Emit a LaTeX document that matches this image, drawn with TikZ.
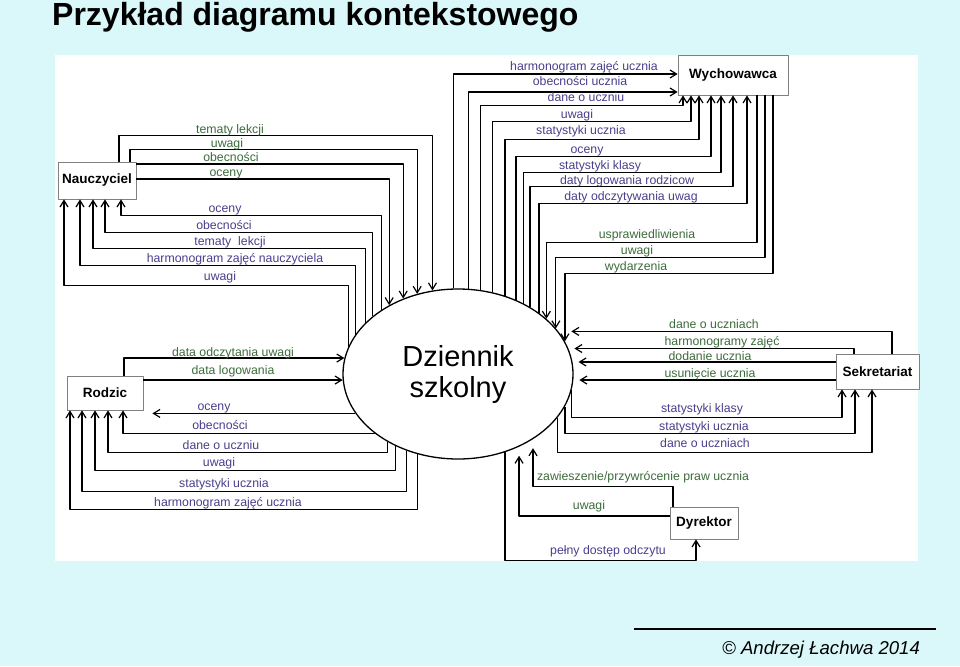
\documentclass[tikz,border=0pt]{standalone}
\usepackage{fontspec}
\setmainfont{Liberation Sans}
\usetikzlibrary{arrows.meta,shapes.geometric,calc}
\definecolor{bgcyan}{RGB}{218,247,249}
\definecolor{flowgreen}{RGB}{60,108,60}
\definecolor{flowblue}{RGB}{72,64,140}
\definecolor{boxgray}{RGB}{128,128,128}
\tikzset{
  entity/.style={draw=boxgray,fill=white,line width=0.8pt,inner sep=0pt,font=\bfseries\fontsize{13.5}{16}\selectfont},
  flow/.style={black,line width=1.2pt},
  lblin/.style={anchor=base,inner sep=0pt,text=flowgreen,font=\fontsize{12.3}{14}\selectfont},
  lblout/.style={anchor=base,inner sep=0pt,text=flowblue,font=\fontsize{12.3}{14}\selectfont},
}
\begin{document}
\begin{tikzpicture}[>={Straight Barb[length=6.5pt,width=8pt]},line join=bevel,x=1pt,y=-1pt]
%%
\useasboundingbox (0,0) rectangle (960,666);
\fill [bgcyan] (0,0) rectangle (960,666);
\fill [white] (55,55) rectangle (918,561);
\node (node_title) at (52,26) [anchor=base west,inner sep=0pt,font=\bfseries\fontsize{32}{36}\selectfont] {Przykład diagramu kontekstowego};
\draw [line width=1.5pt] (634,629) -- (936,629);
\node (node_footer) at (722,654) [anchor=base west,inner sep=0pt,font=\itshape\fontsize{18.6}{22}\selectfont] {© Andrzej Łachwa 2014};
%%
\node (node_dziennik) at (458,374) [draw,ellipse,fill=white,line width=1.3pt,minimum width=230pt,minimum height=170pt,inner sep=0pt,align=center,font=\fontsize{29}{31}\selectfont] {Dziennik\\szkolny};
  \node (node_nauczyciel) at (97,180.5) [entity,minimum width=78pt,minimum height=37pt] {Nauczyciel};
  \node (node_wychowawca) at (733,75) [entity,minimum width=110pt,minimum height=40pt] {Wychowawca};
  \node (node_rodzic) at (105,393) [entity,minimum width=76pt,minimum height=34pt] {Rodzic};
  \node (node_sekretariat) at (877.5,371.5) [entity,minimum width=83pt,minimum height=35pt] {Sekretariat};
  \node (node_dyrektor) at (704,523) [entity,minimum width=68pt,minimum height=32pt] {Dyrektor};
%
  \draw [flow,->] ([xshift=22pt]node_nauczyciel.north) -- ++(0,-26) -| (node_dziennik.107);
  \draw [flow,->] ([xshift=33pt]node_nauczyciel.north) -- ++(0,-12) -| (node_dziennik.117);
  \draw [flow,->] ([yshift=16.5pt]node_nauczyciel.east) -| (node_dziennik.126);
  \draw [flow,->] ([yshift=1.5pt]node_nauczyciel.east) -| (node_dziennik.135);
  \draw [flow,<-] ([xshift=24pt]node_nauczyciel.south) -- ++(0,16) -| (node_dziennik.140);
  \draw [flow,<-] ([xshift=8pt]node_nauczyciel.south) -- ++(0,33) -| (node_dziennik.146);
  \draw [flow,<-] ([xshift=-4pt]node_nauczyciel.south) -- ++(0,49) -| (node_dziennik.151);
  \draw [flow,<-] ([xshift=-17pt]node_nauczyciel.south) -- ++(0,66) -| (node_dziennik.159);
  \draw [flow,<-] ([xshift=-33pt]node_nauczyciel.south) -- ++(0,86) -| (node_dziennik.166);
  \node (lbl_n1) at (230,133) [lblin] {tematy lekcji};
  \node (lbl_n2) at (227,147) [lblin] {uwagi};
  \node (lbl_n3) at (231,161) [lblin] {obecności};
  \node (lbl_n4) at (226,176) [lblin] {oceny};
  \node (lbl_n5) at (225,212) [lblout] {oceny};
  \node (lbl_n6) at (224,229) [lblout] {obecności};
  \node (lbl_n7) at (230,245) [lblout] {tematy\ \ lekcji};
  \node (lbl_n8) at (235,262) [lblout] {harmonogram zajęć nauczyciela};
  \node (lbl_n9) at (220,280) [lblout] {uwagi};
%
  \draw [flow,<-] ([yshift=1pt]node_wychowawca.west) -| (node_dziennik.93);
  \draw [flow,<-] ([yshift=-17pt]node_wychowawca.west) -| (node_dziennik.83);
  \draw [flow,<-] ([xshift=-50pt]node_wychowawca.south) -- ++(0,10) -| (node_dziennik.75);
  \draw [flow,<-] ([xshift=-42pt]node_wychowawca.south) -- ++(0,26) -| (node_dziennik.67);
  \draw [flow,<-] ([xshift=-34pt]node_wychowawca.south) -- ++(0,44) -| (node_dziennik.59);
  \draw [flow,<-] ([xshift=-22pt]node_wychowawca.south) -- ++(0,61) -| (node_dziennik.52);
  \draw [flow,<-] ([xshift=-12pt]node_wychowawca.south) -- ++(0,77) -| (node_dziennik.47);
  \draw [flow,<-] (node_wychowawca.south) -- ++(0,91) -| (node_dziennik.43);
  \draw [flow,<-] ([xshift=14pt]node_wychowawca.south) -- ++(0,108) -| (node_dziennik.37);
  \draw [flow,->] ([xshift=24pt]node_wychowawca.south) -- ++(0,147) -| (node_dziennik.32);
  \draw [flow,->] ([xshift=32pt]node_wychowawca.south) -- ++(0,162) -| (node_dziennik.25);
  \draw [flow,->] ([xshift=40pt]node_wychowawca.south) -- ++(0,178) -| (node_dziennik.17);
  \node (lbl_w1) at (584,71) [lblout] {harmonogram zajęć ucznia};
  \node (lbl_w2) at (580,86) [lblout] {obecności ucznia};
  \node (lbl_w3) at (586,102) [lblout] {dane o uczniu};
  \node (lbl_w4) at (577,118) [lblout] {uwagi};
  \node (lbl_w5) at (581,135) [lblout] {statystyki ucznia};
  \node (lbl_w6) at (587,153) [lblout] {oceny};
  \node (lbl_w7) at (600,169) [lblout] {statystyki klasy};
  \node (lbl_w8) at (627,184) [lblout] {daty logowania rodzicow};
  \node (lbl_w9) at (631,200) [lblout] {daty odczytywania uwag};
  \node (lbl_w10) at (647,238) [lblin] {usprawiedliwienia};
  \node (lbl_w11) at (637,254) [lblin] {uwagi};
  \node (lbl_w12) at (636,270) [lblin] {wydarzenia};
%
  \draw [flow,->,shorten >=13pt] ([xshift=14.5pt]node_sekretariat.north) |- (node_dziennik.23);
  \draw [flow,->,shorten >=6pt] ([xshift=-23.5pt]node_sekretariat.north) |- (node_dziennik.13);
  \draw [flow,->,shorten >=6pt] (node_dziennik.6 -| node_sekretariat.west) -- (node_dziennik.6);
  \draw [flow,->,shorten >=6pt] (node_dziennik.357 -| node_sekretariat.west) -- (node_dziennik.357);
  \draw [flow,<-] ([xshift=-35.5pt]node_sekretariat.south) -- ++(0,28) -| (node_dziennik.352);
  \draw [flow,<-] ([xshift=-22.5pt]node_sekretariat.south) -- ++(0,44) -| (node_dziennik.343);
  \draw [flow,<-] ([xshift=-5.5pt]node_sekretariat.south) -- ++(0,63) -| (node_dziennik.336);
  \node (lbl_s1) at (714,328) [lblin] {dane o uczniach};
  \node (lbl_s2) at (722,345) [lblin] {harmonogramy zajęć};
  \node (lbl_s3) at (710,360) [lblin] {dodanie ucznia};
  \node (lbl_s4) at (710,377) [lblin] {usunięcie ucznia};
  \node (lbl_s5) at (702,412) [lblout] {statystyki klasy};
  \node (lbl_s6) at (704,430) [lblout] {statystyki ucznia};
  \node (lbl_s7) at (705,447) [lblout] {dane o uczniach};
%
  \draw [flow,->,shorten >=9pt] ([xshift=-31pt]node_dyrektor.north) -- ++(0,-20) -| (node_dziennik.319);
  \draw [flow,->,shorten >=9pt] ([yshift=7pt]node_dyrektor.west) -| (node_dziennik.310);
  \draw [flow,<-] ([xshift=-8pt]node_dyrektor.south) -- ++(0,21) -| (node_dziennik.301);
  \node (lbl_d1) at (643,480) [lblin] {zawieszenie/przywrócenie praw ucznia};
  \node (lbl_d2) at (589,509) [lblin] {uwagi};
  \node (lbl_d3) at (608,554) [lblout] {pełny dostęp odczytu};
%
  \draw [flow,->] ([xshift=19pt]node_rodzic.north) |- (node_dziennik.172);
  \draw [flow,->] (node_dziennik.183 -| node_rodzic.east) -- (node_dziennik.183);
  \draw [flow,<-] ($(node_dziennik.201 -| node_rodzic.east)+(9,0)$) -- (node_dziennik.201);
  \draw [flow,<-] ([xshift=18pt]node_rodzic.south) -- ++(0,23) -| (node_dziennik.215);
  \draw [flow,<-] ([xshift=3pt]node_rodzic.south) -- ++(0,42) -| (node_dziennik.224);
  \draw [flow,<-] ([xshift=-10pt]node_rodzic.south) -- ++(0,60) -| (node_dziennik.229);
  \draw [flow,<-] ([xshift=-23pt]node_rodzic.south) -- ++(0,81) -| (node_dziennik.236);
  \draw [flow,<-] ([xshift=-35pt]node_rodzic.south) -- ++(0,99) -| (node_dziennik.243);
  \node (lbl_r1) at (233,356) [lblin] {data odczytania uwagi};
  \node (lbl_r2) at (233,374) [lblin] {data logowania};
  \node (lbl_r3) at (214,410) [lblout] {oceny};
  \node (lbl_r4) at (220,429) [lblout] {obecności};
  \node (lbl_r5) at (221,449) [lblout] {dane o uczniu};
  \node (lbl_r6) at (219,466) [lblout] {uwagi};
  \node (lbl_r7) at (224,487) [lblout] {statystyki ucznia};
  \node (lbl_r8) at (228,506) [lblout] {harmonogram zajęć ucznia};
%
\end{tikzpicture}
\end{document}
